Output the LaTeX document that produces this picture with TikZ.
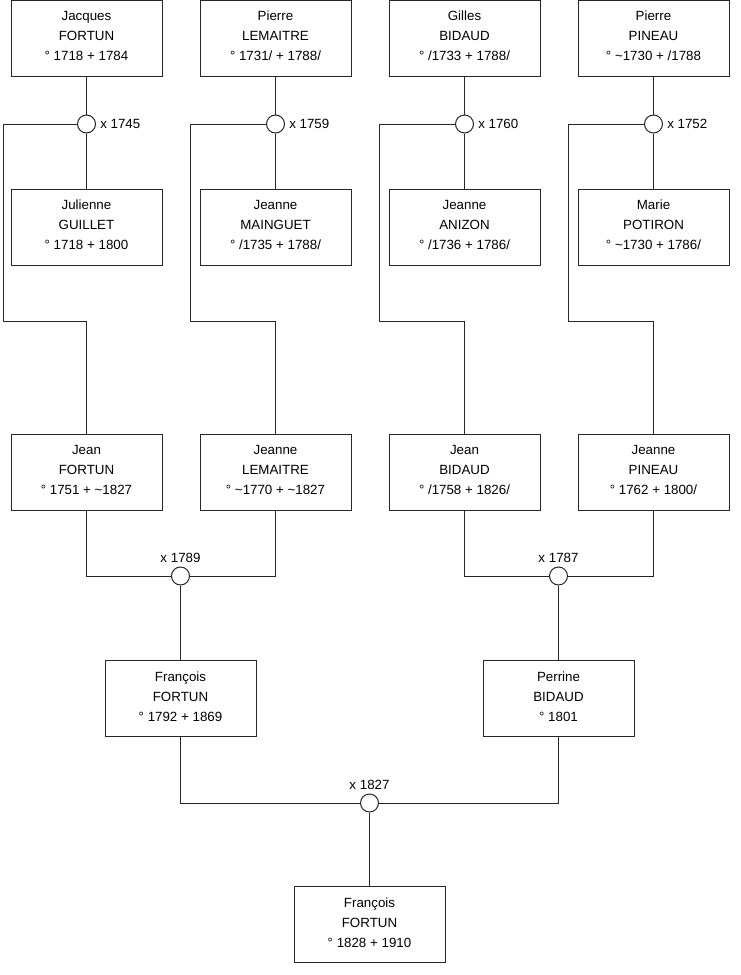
\documentclass[tikz,border=0pt]{standalone}
\usepackage{fontspec}
\setmainfont{Liberation Sans}
\begin{document}
\begin{tikzpicture}[x=0.75pt,y=-0.75pt,
  person/.style={draw=black!85,line width=0.75pt,fill=white,minimum width=151*0.75pt,minimum height=76*0.75pt,inner sep=0pt,align=center,text depth=3pt,font=\fontsize{10pt}{15pt}\selectfont},
  union/.style={circle,draw=black!85,line width=0.75pt,fill=white,minimum size=18*0.75pt,inner sep=0pt},
  lbl/.style={font=\fontsize{10pt}{12pt}\selectfont,inner sep=0pt},
  link/.style={draw=black!85,line width=0.75pt}]
\useasboundingbox (0,0) rectangle (740,975);
% row 1
\node[person] (a1) at (86.5,38) {Jacques\\FORTUN\\° 1718 + 1784};
\node[person] (a2) at (275.5,38) {Pierre\\LEMAITRE\\° 1731/ + 1788/};
\node[person] (a3) at (464.5,38) {Gilles\\BIDAUD\\° /1733 + 1788/};
\node[person] (a4) at (653.5,38) {Pierre\\PINEAU\\° \textasciitilde1730 + /1788};
% row 2
\node[person] (b1) at (86.5,227) {Julienne\\GUILLET\\° 1718 + 1800};
\node[person] (b2) at (275.5,227) {Jeanne\\MAINGUET\\° /1735 + 1788/};
\node[person] (b3) at (464.5,227) {Jeanne\\ANIZON\\° /1736 + 1786/};
\node[person] (b4) at (653.5,227) {Marie\\POTIRON\\° \textasciitilde1730 + 1786/};
% row 3
\node[person] (c1) at (86.5,472) {Jean\\FORTUN\\° 1751 + \textasciitilde1827};
\node[person] (c2) at (275.5,472) {Jeanne\\LEMAITRE\\° \textasciitilde1770 + \textasciitilde1827};
\node[person] (c3) at (464.5,472) {Jean\\BIDAUD\\° /1758 + 1826/};
\node[person] (c4) at (653.5,472) {Jeanne\\PINEAU\\° 1762 + 1800/};
% row 4
\node[person] (d1) at (180.5,698.5) {François\\FORTUN\\° 1792 + 1869};
\node[person] (d2) at (558.5,698.5) {Perrine\\BIDAUD\\° 1801};
% row 5
\node[person] (e1) at (369.5,924.5) {François\\FORTUN\\° 1828 + 1910};
% unions
\node[union] (u1) at (86.5,124) {};
\node[union] (u2) at (275.5,124) {};
\node[union] (u3) at (464.5,124) {};
\node[union] (u4) at (653.5,124) {};
\node[union] (u5) at (180.5,576) {};
\node[union] (u6) at (558.5,576) {};
\node[union] (u7) at (369.5,803) {};
% labels
\node[lbl,anchor=west] (l1) at ([xshift=4*0.75pt]u1.east) {x 1745};
\node[lbl,anchor=west] (l2) at ([xshift=4*0.75pt]u2.east) {x 1759};
\node[lbl,anchor=west] (l3) at ([xshift=4*0.75pt]u3.east) {x 1760};
\node[lbl,anchor=west] (l4) at ([xshift=4*0.75pt]u4.east) {x 1752};
\node[lbl,anchor=south] (l5) at ([yshift=4*0.75pt]u5.north) {x 1789};
\node[lbl,anchor=south] (l6) at ([yshift=4*0.75pt]u6.north) {x 1787};
\node[lbl,anchor=south] (l7) at ([yshift=4*0.75pt]u7.north) {x 1827};
% corner coordinates
\coordinate (k1a) at (3,124);   \coordinate (k1b) at (3,321);
\coordinate (k2a) at (190,124); \coordinate (k2b) at (190,321);
\coordinate (k3a) at (379,124); \coordinate (k3b) at (379,321);
\coordinate (k4a) at (568,124); \coordinate (k4b) at (568,321);
% connectors
\foreach \i in {1,2,3,4}{
  \draw[link] (a\i) -- (u\i);
  \draw[link] (u\i) -- (b\i);
  \draw[link] (u\i.west) -- (k\i a) -- (k\i b) -| (c\i.north);
}
\draw[link] (c1.south) |- (u5.west);
\draw[link] (c2.south) |- (u5.east);
\draw[link] (u5) -- (d1);
\draw[link] (c3.south) |- (u6.west);
\draw[link] (c4.south) |- (u6.east);
\draw[link] (u6) -- (d2);
\draw[link] (d1.south) |- (u7.west);
\draw[link] (d2.south) |- (u7.east);
\draw[link] (u7) -- (e1);
\end{tikzpicture}
\end{document}
